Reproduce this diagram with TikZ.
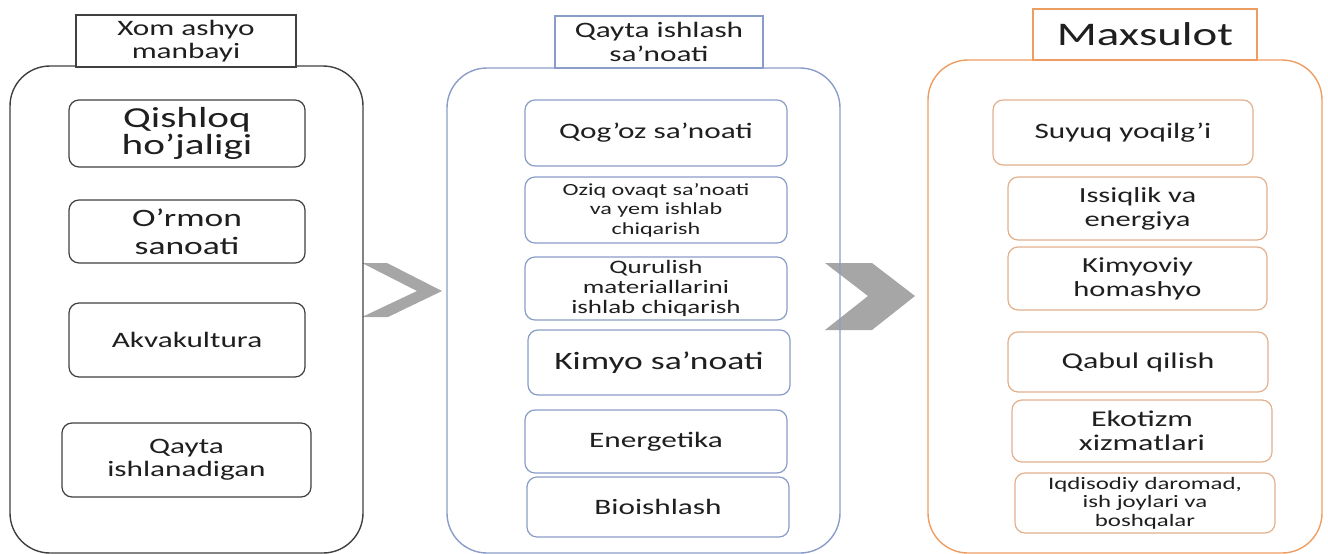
\documentclass[tikz,border=0pt]{standalone}
\usepackage{fontspec}
\setmainfont[FakeStretch=1.42]{Carlito}
\usetikzlibrary{calc}

\definecolor{srcline}{HTML}{404040}
\definecolor{procline}{HTML}{8A9CC8}
\definecolor{prodline}{HTML}{EE9D62}
\definecolor{prodinner}{HTML}{E2B08C}
\definecolor{chevgray}{HTML}{A6A6A6}

\newcommand{\fsz}[2]{\fontsize{#1}{#2}\selectfont}

\begin{document}
\begin{tikzpicture}[x=1pt,y=1pt]
	\tikzstyle{every node}+=[inner sep=0pt, align=center, text=black!88]
	\tikzstyle{outerbox}=[draw, rounded corners=40pt, line width=1.4pt]
	\tikzstyle{headbox}=[draw, fill=white, line width=1.2pt]
	\tikzstyle{itembox}=[draw, fill=white, rounded corners=10pt, line width=1.2pt]
	\useasboundingbox (0,0) rectangle (1328,-554);
	% chevrons between the columns
	\fill [chevgray] (362,-263) -- (387,-263) -- (442,-291) -- (388,-317) -- (362,-317) -- (417,-291) -- cycle;
	\fill [chevgray] (825,-263) -- (872,-263) -- (915,-296) -- (872,-330) -- (825,-330) -- (868,-296) -- cycle;
	% raw material column
	\node [outerbox, draw=srcline, minimum width=353, minimum height=487] (srcbox) at (186.5,-309.5) {};
	\node [headbox, draw=srcline, minimum width=220, minimum height=52, font=\fsz{22}{23}] (srchead) at (186,-41) {Xom ashyo\\manbayi};
	\node [itembox, draw=srcline, minimum width=236, minimum height=67, font=\fsz{29}{27}] (src1) at (187,-133.5) {Qishloq\\ho’jaligi};
	\node [itembox, draw=srcline, minimum width=236, minimum height=63, font=\fsz{25}{28}] (src2) at (187,-231.5) {O’rmon\\sanoati};
	\node [itembox, draw=srcline, minimum width=236, minimum height=74, font=\fsz{22}{23}] (src3) at (187,-340) {Akvakultura};
	\node [itembox, draw=srcline, minimum width=249, minimum height=74, font=\fsz{22}{23}] (src4) at (186.5,-460) {Qayta\\ishlanadigan};
	% processing column
	\node [outerbox, draw=procline, minimum width=393, minimum height=485] (procbox) at (643.5,-310.5) {};
	\node [headbox, draw=procline, minimum width=208, minimum height=52, font=\fsz{22}{24}] (prochead) at (659,-42) {Qayta ishlash\\sa’noati};
	\node [itembox, draw=procline, minimum width=262, minimum height=66, font=\fsz{22}{23}] (proc1) at (656,-133) {Qog’oz sa’noati};
	\node [itembox, draw=procline, minimum width=262, minimum height=66, font=\fsz{17}{19.5}] (proc2) at (656,-210) {Oziq ovaqt sa’noati\\va yem ishlab\\chiqarish};
	\node [itembox, draw=procline, minimum width=262, minimum height=63, font=\fsz{19}{20}] (proc3) at (656,-288.5) {Qurulish\\materiallarini\\ishlab chiqarish};
	\node [itembox, draw=procline, minimum width=262, minimum height=65, font=\fsz{25}{26}] (proc4) at (659,-362.5) {Kimyo sa’noati};
	\node [itembox, draw=procline, minimum width=262, minimum height=63, font=\fsz{22}{23}] (proc5) at (656,-441.5) {Energetika};
	\node [itembox, draw=procline, minimum width=262, minimum height=60, font=\fsz{22}{23}] (proc6) at (658,-507) {Bioishlash};
	% product column
	\node [outerbox, draw=prodline, minimum width=394, minimum height=493] (prodbox) at (1125,-306.5) {};
	\node [headbox, draw=prodline, minimum width=224, minimum height=51, font=\fsz{33}{34}] (prodhead) at (1145,-34.5) {Maxsulot};
	\node [itembox, draw=prodinner, minimum width=260, minimum height=65, font=\fsz{22}{23}] (prod1) at (1123,-132.5) {Suyuq yoqilg’i};
	\node [itembox, draw=prodinner, minimum width=259, minimum height=63, font=\fsz{21.5}{24}] (prod2) at (1137.5,-208.5) {Issiqlik va\\energiya};
	\node [itembox, draw=prodinner, minimum width=259, minimum height=63, font=\fsz{21.5}{24}] (prod3) at (1137.5,-278.5) {Kimyoviy\\homashyo};
	\node [itembox, draw=prodinner, minimum width=260, minimum height=60, font=\fsz{22.5}{23}] (prod4) at (1138,-362) {Qabul qilish};
	\node [itembox, draw=prodinner, minimum width=260, minimum height=62, font=\fsz{22.5}{24}] (prod5) at (1142,-431) {Ekotizm\\xizmatlari};
	\node [itembox, draw=prodinner, minimum width=260, minimum height=60, font=\fsz{17.5}{18.5}] (prod6) at (1145,-503) {Iqdisodiy daromad,\\ish joylari va\\boshqalar};
\end{tikzpicture}
\end{document}
